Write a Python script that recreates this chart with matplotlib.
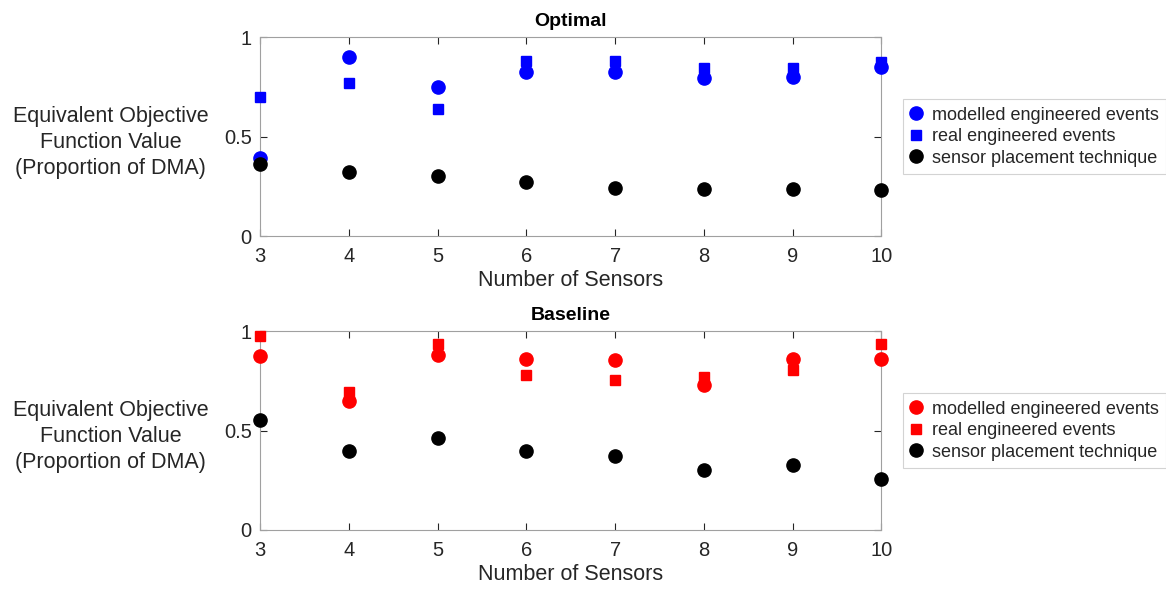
import matplotlib
matplotlib.use("Agg")
import matplotlib.pyplot as plt

plt.rcParams['font.family'] = ['Liberation Sans', 'DejaVu Sans']

sensors = [3, 4, 5, 6, 7, 8, 9, 10]

opt_modelled = [0.39, 0.90, 0.75, 0.825, 0.825, 0.795, 0.80, 0.85]
opt_real = [0.70, 0.77, 0.637, 0.88, 0.88, 0.845, 0.845, 0.875]
opt_sensor = [0.363, 0.32, 0.30, 0.274, 0.242, 0.236, 0.236, 0.231]

base_modelled = [0.876, 0.649, 0.878, 0.859, 0.856, 0.729, 0.859, 0.859]
base_real = [0.975, 0.695, 0.936, 0.78, 0.756, 0.77, 0.805, 0.936]
base_sensor = [0.554, 0.398, 0.461, 0.398, 0.373, 0.302, 0.329, 0.258]

titles = ["Optimal", "Baseline"]
labels = ["modelled engineered events", "real engineered events", "sensor placement technique"]
ylabel = "Equivalent Objective\nFunction Value\n(Proportion of DMA)"
xlabel = "Number of Sensors"

fig = plt.figure(figsize=(11.66, 5.9), dpi=100)
axes = [fig.add_axes([0.223, 0.60, 0.533, 0.337]),
        fig.add_axes([0.223, 0.1017, 0.533, 0.337])]

datasets = [(opt_modelled, opt_real, opt_sensor, "#0000ff"),
            (base_modelled, base_real, base_sensor, "#ff0000")]

for ax, title, (m, r, s, col) in zip(axes, titles, datasets):
    ax.plot(sensors, m, 'o', color=col, ms=9.5, ls='none', label=labels[0], clip_on=False, zorder=3)
    ax.plot(sensors, r, 's', color=col, ms=6.5, ls='none', label=labels[1], clip_on=False, zorder=3)
    ax.plot(sensors, s, 'o', color='black', ms=9.5, ls='none', label=labels[2], clip_on=False, zorder=3)
    ax.set_xlim(3, 10)
    ax.set_ylim(0, 1)
    ax.set_xticks(sensors)
    ax.set_yticks([0, 0.5, 1])
    ax.set_yticklabels(["0", "0.5", "1"])
    ax.tick_params(direction='in', top=True, right=True, labelsize=14.5,
                   colors='#262626', length=5, width=0.8)
    ax.tick_params(axis='x', pad=8)
    ax.tick_params(axis='y', pad=6)
    for sp in ax.spines.values():
        sp.set_color('#a0a0a0')
        sp.set_linewidth(0.8)
    ax.set_title(title, fontsize=14, fontweight='bold', pad=8)
    ax.set_xlabel(xlabel, fontsize=15.5, color='#262626', labelpad=3)
    ax.set_ylabel(ylabel, fontsize=15.5, color='#262626', rotation=0,
                  ha='center', va='center', labelpad=0, linespacing=1.3)
    ax.yaxis.set_label_coords(-0.24, 0.47)
    leg = ax.legend(loc='center left', bbox_to_anchor=(1.02, 0.5), fontsize=13,
                    frameon=True, fancybox=False, handlelength=0.6,
                    handletextpad=0.6, borderpad=0.4, labelspacing=0.25,
                    edgecolor='#c8c8c8')
    leg.get_frame().set_linewidth(0.8)
    for t in leg.get_texts():
        t.set_color('#262626')

fig.savefig("out.png", dpi=100)
